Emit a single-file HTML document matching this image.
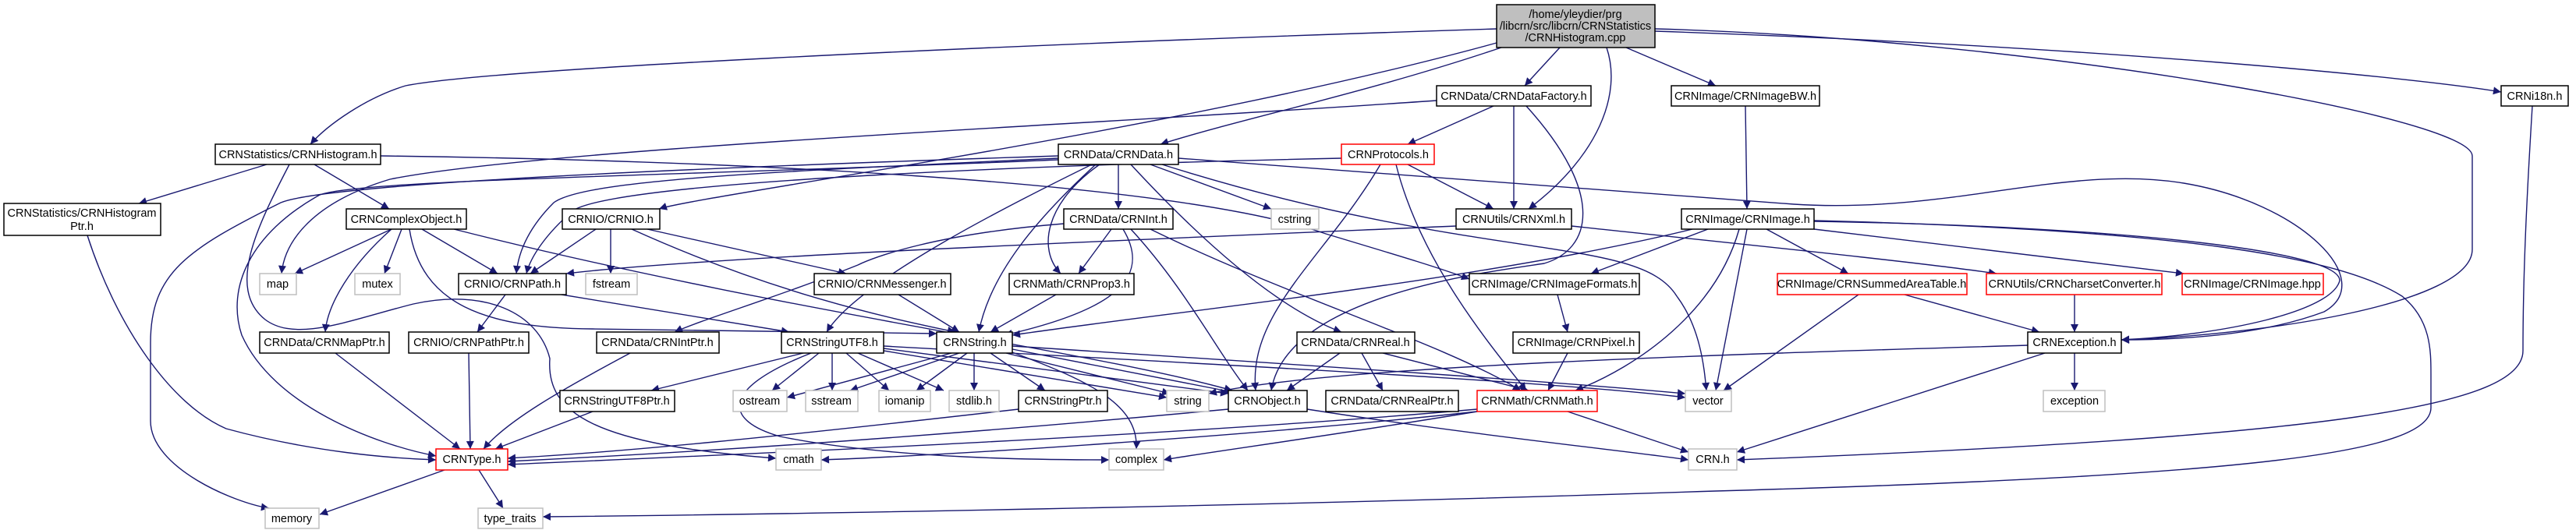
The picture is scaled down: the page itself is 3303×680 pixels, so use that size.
<!DOCTYPE html>
<html><head><meta charset="utf-8"><style>
html,body{margin:0;padding:0;background:#fff;}
svg{display:block;}
text{font-family:"Liberation Sans",sans-serif;font-size:14.5px;fill:#000;text-anchor:middle;}
.e{fill:none;stroke:#191970;stroke-width:1.4;marker-end:url(#a);}
.n{fill:#fff;stroke:#000;stroke-width:1.5;}
.g{fill:#fff;stroke:#bfbfbf;stroke-width:1.5;}
.r{fill:#fff;stroke:#ff0000;stroke-width:1.5;}
</style></head><body>
<svg width="3303" height="680" viewBox="0 0 3303 680" xmlns="http://www.w3.org/2000/svg">
<defs><marker id="a" viewBox="0 0 10 10" refX="10" refY="5" markerWidth="14" markerHeight="10" markerUnits="userSpaceOnUse" orient="auto"><path d="M0,0 L10,5 L0,10 z" fill="#191970"/></marker></defs>
<g>
<path class="e" d="M2000,61 L1955,110"/>
<path class="e" d="M2085,61 L2200,110"/>
<path class="e" d="M2122,40 C2700,60 3100,100 3207,118"/>
<path class="e" d="M2122,37 C2600,50 3170,150 3170,200 L3170,320 C3170,390 2900,430 2720,436"/>
<path class="e" d="M2060,61 C2080,120 2050,200 1960,268"/>
<path class="e" d="M1925,61 C1750,120 1600,150 1488,185"/>
<path class="e" d="M1919,55 C1500,170 900,250 845,268"/>
<path class="e" d="M1919,37 C1200,60 620,90 520,110 C470,125 420,160 398,185"/>
<path class="e" d="M1915,136 L1805,185"/>
<path class="e" d="M1941,136 L1941,268"/>
<path class="e" d="M1957,136 C2060,250 2040,320 1980,338 C1900,350 1650,380 1630,501"/>
<path class="e" d="M1842,129 C1400,160 700,190 500,230 C400,260 365,310 361,351"/>
<path class="e" d="M342,211 L178,261"/>
<path class="e" d="M403,211 L499,268"/>
<path class="e" d="M371,211 C330,290 290,370 340,410 C380,440 450,410 530,390 C620,370 690,400 705,460 C700,530 760,570 995,588"/>
<path class="e" d="M488,200 C900,205 1500,230 1700,300 C1800,330 1850,345 1884,358"/>
<path class="e" d="M1434,211 L1434,268"/>
<path class="e" d="M1475,211 L1630,268"/>
<path class="e" d="M1410,211 C1340,260 1330,320 1360,351"/>
<path class="e" d="M1405,211 C1330,280 1270,350 1255,426"/>
<path class="e" d="M1400,211 C1300,260 1100,360 1060,426"/>
<path class="e" d="M1450,211 C1560,330 1650,400 1720,426"/>
<path class="e" d="M1490,211 C1900,340 2100,300 2150,380 C2180,420 2185,470 2188,501"/>
<path class="e" d="M1511,203 C1900,230 2150,250 2300,262 C2500,275 2650,210 2800,235 C2950,260 3050,360 2980,400 C2900,430 2800,436 2720,436"/>
<path class="e" d="M1357,203 C1000,220 750,230 710,260 C680,290 665,320 662,351"/>
<path class="e" d="M1357,205 C900,225 460,230 410,250 C320,300 290,370 310,430 C350,520 480,570 559,585"/>
<path class="e" d="M1357,200 C900,215 420,235 360,260 C240,320 193,350 193,440 L193,540 C193,600 300,645 345,652"/>
<path class="e" d="M1805,211 L1915,268"/>
<path class="e" d="M1770,211 C1700,330 1600,400 1610,501"/>
<path class="e" d="M1790,211 C1820,330 1900,430 1957,501"/>
<path class="e" d="M1720,203 C1400,210 800,230 735,270 C700,300 680,330 675,351"/>
<path class="e" d="M502,294 L378,351"/>
<path class="e" d="M515,294 L493,351"/>
<path class="e" d="M541,294 L638,351"/>
<path class="e" d="M502,294 C450,340 420,390 417,426"/>
<path class="e" d="M582,294 C1000,400 1400,450 1580,501"/>
<path class="e" d="M525,294 C540,390 620,421 760,422 L1201,428"/>
<path class="e" d="M764,294 L680,351"/>
<path class="e" d="M783,294 L783,351"/>
<path class="e" d="M830,294 L1085,351"/>
<path class="e" d="M810,294 C1000,380 1150,410 1225,426"/>
<path class="e" d="M1867,290 C1400,310 900,330 726,351"/>
<path class="e" d="M2015,290 C2200,310 2450,335 2560,351"/>
<path class="e" d="M2265,294 L2370,351"/>
<path class="e" d="M2326,294 L2800,351"/>
<path class="e" d="M2326,284 C2700,290 3000,320 3000,360 C2990,400 2850,430 2720,436"/>
<path class="e" d="M2326,283 C2800,295 3000,330 3080,380 C3117,410 3117,450 3117,480 L3117,523 C3117,580 2900,610 2200,630 C1600,650 1000,660 696,663"/>
<path class="e" d="M2170,294 C1900,360 1500,400 1298,430"/>
<path class="e" d="M2190,294 L2040,351"/>
<path class="e" d="M2240,294 L2200,501"/>
<path class="e" d="M2230,294 C2200,400 2100,470 2020,501"/>
<path class="e" d="M2238,136 L2240,268"/>
<path class="e" d="M3247,136 C3240,250 3235,350 3235,450 C3235,520 3000,560 2227,590"/>
<path class="e" d="M648,378 L612,426"/>
<path class="e" d="M720,378 L1012,426"/>
<path class="e" d="M1152,378 L1230,426"/>
<path class="e" d="M1354,378 L1270,426"/>
<path class="e" d="M1425,294 L1383,351"/>
<path class="e" d="M1440,294 C1480,360 1420,400 1288,430"/>
<path class="e" d="M1450,294 C1520,370 1560,450 1600,501"/>
<path class="e" d="M1475,294 C1650,380 1850,440 1950,501"/>
<path class="e" d="M1364,287 C1200,300 1120,330 1100,340 C1000,380 900,410 865,426"/>
<path class="e" d="M1997,378 L2010,426"/>
<path class="e" d="M2010,453 L1985,501"/>
<path class="e" d="M1718,453 L1650,501"/>
<path class="e" d="M1746,453 L1773,501"/>
<path class="e" d="M1773,453 L1960,501"/>
<path class="e" d="M2442,378 L2615,426"/>
<path class="e" d="M2383,378 L2210,501"/>
<path class="e" d="M2660,378 L2660,426"/>
<path class="e" d="M2600,443 C2200,455 1700,470 1550,505"/>
<path class="e" d="M2660,453 L2660,501"/>
<path class="e" d="M2622,453 L2227,580"/>
<path class="e" d="M1030,453 L835,501"/>
<path class="e" d="M1050,453 L990,501"/>
<path class="e" d="M1067,453 L1067,501"/>
<path class="e" d="M1085,453 L1140,501"/>
<path class="e" d="M1100,453 L1210,501"/>
<path class="e" d="M1133,450 L1496,510"/>
<path class="e" d="M1133,447 L1575,505"/>
<path class="e" d="M1133,444 C1600,470 2000,490 2161,510"/>
<path class="e" d="M1040,453 C920,500 930,540 1000,560 C1150,590 1350,590 1422,590"/>
<path class="e" d="M1220,453 L1009,510"/>
<path class="e" d="M1230,453 L1090,501"/>
<path class="e" d="M1240,453 L1175,501"/>
<path class="e" d="M1249,453 L1249,501"/>
<path class="e" d="M1270,453 L1340,501"/>
<path class="e" d="M1290,453 L1500,505"/>
<path class="e" d="M1298,448 L1580,503"/>
<path class="e" d="M1298,452 C1400,490 1460,520 1457,576"/>
<path class="e" d="M1298,444 C1700,470 2000,490 2161,505"/>
<path class="e" d="M1306,525 C1000,560 800,580 651,588"/>
<path class="e" d="M1575,525 C1200,560 900,580 651,592"/>
<path class="e" d="M1894,525 C1500,560 900,585 651,596"/>
<path class="e" d="M1894,528 C1700,560 1550,580 1492,590"/>
<path class="e" d="M2010,528 L2165,580"/>
<path class="e" d="M1894,528 C1600,560 1200,585 1053,590"/>
<path class="e" d="M1676,525 C1900,560 2100,580 2165,590"/>
<path class="e" d="M430,453 L590,576"/>
<path class="e" d="M601,453 L603,576"/>
<path class="e" d="M808,453 C720,500 650,540 620,576"/>
<path class="e" d="M760,528 L635,576"/>
<path class="e" d="M112,302 C150,420 220,520 290,550 C400,580 500,588 559,590"/>
<path class="e" d="M570,603 L410,660"/>
<path class="e" d="M614,603 L645,652"/>
</g>
<g>
<rect x="1919" y="6" width="203" height="55" fill="#bfbfbf" stroke="#000" stroke-width="1.5"/>
<text x="2020" y="23">/home/yleydier/prg</text><text x="2020" y="38">/libcrn/src/libcrn/CRNStatistics</text><text x="2020" y="53">/CRNHistogram.cpp</text>
<rect class="n" x="1842" y="110" width="198" height="26"/><text x="1941" y="128">CRNData/CRNDataFactory.h</text>
<rect class="n" x="2143" y="110" width="190" height="26"/><text x="2238" y="128">CRNImage/CRNImageBW.h</text>
<rect class="n" x="3207" y="110" width="86" height="26"/><text x="3250" y="128">CRNi18n.h</text>
<rect class="n" x="276" y="185" width="212" height="26"/><text x="382" y="203">CRNStatistics/CRNHistogram.h</text>
<rect class="n" x="1357" y="185" width="154" height="26"/><text x="1434" y="203">CRNData/CRNData.h</text>
<rect class="r" x="1720" y="185" width="119" height="26"/><text x="1780" y="203">CRNProtocols.h</text>
<rect class="n" x="5" y="261" width="201" height="41"/><text x="105" y="278">CRNStatistics/CRNHistogram</text><text x="105" y="295">Ptr.h</text>
<rect class="n" x="444" y="268" width="154" height="26"/><text x="521" y="286">CRNComplexObject.h</text>
<rect class="n" x="721" y="268" width="125" height="26"/><text x="783" y="286">CRNIO/CRNIO.h</text>
<rect class="n" x="1364" y="268" width="140" height="26"/><text x="1434" y="286">CRNData/CRNInt.h</text>
<rect class="g" x="1630" y="268" width="61" height="26"/><text x="1660" y="286">cstring</text>
<rect class="n" x="1867" y="268" width="148" height="26"/><text x="1941" y="286">CRNUtils/CRNXml.h</text>
<rect class="n" x="2156" y="268" width="170" height="26"/><text x="2241" y="286">CRNImage/CRNImage.h</text>
<rect class="g" x="333" y="351" width="47" height="27"/><text x="356" y="369">map</text>
<rect class="g" x="455" y="351" width="58" height="27"/><text x="484" y="369">mutex</text>
<rect class="n" x="588" y="351" width="138" height="27"/><text x="657" y="369">CRNIO/CRNPath.h</text>
<rect class="g" x="751" y="351" width="66" height="27"/><text x="784" y="369">fstream</text>
<rect class="n" x="1044" y="351" width="175" height="27"/><text x="1131" y="369">CRNIO/CRNMessenger.h</text>
<rect class="n" x="1294" y="351" width="160" height="27"/><text x="1374" y="369">CRNMath/CRNProp3.h</text>
<rect class="n" x="1884" y="351" width="218" height="27"/><text x="1993" y="369">CRNImage/CRNImageFormats.h</text>
<rect class="r" x="2279" y="351" width="243" height="27"/><text x="2400" y="369">CRNImage/CRNSummedAreaTable.h</text>
<rect class="r" x="2547" y="351" width="225" height="27"/><text x="2660" y="369">CRNUtils/CRNCharsetConverter.h</text>
<rect class="r" x="2798" y="351" width="181" height="27"/><text x="2888" y="369">CRNImage/CRNImage.hpp</text>
<rect class="n" x="333" y="426" width="166" height="27"/><text x="416" y="444">CRNData/CRNMapPtr.h</text>
<rect class="n" x="524" y="426" width="154" height="27"/><text x="601" y="444">CRNIO/CRNPathPtr.h</text>
<rect class="n" x="765" y="426" width="157" height="27"/><text x="843" y="444">CRNData/CRNIntPtr.h</text>
<rect class="n" x="1002" y="426" width="131" height="27"/><text x="1067" y="444">CRNStringUTF8.h</text>
<rect class="n" x="1201" y="426" width="97" height="27"/><text x="1250" y="444">CRNString.h</text>
<rect class="n" x="1663" y="426" width="151" height="27"/><text x="1738" y="444">CRNData/CRNReal.h</text>
<rect class="n" x="1940" y="426" width="162" height="27"/><text x="2021" y="444">CRNImage/CRNPixel.h</text>
<rect class="n" x="2600" y="426" width="120" height="27"/><text x="2660" y="444">CRNException.h</text>
<rect class="n" x="718" y="501" width="147" height="27"/><text x="791" y="519">CRNStringUTF8Ptr.h</text>
<rect class="g" x="940" y="501" width="69" height="27"/><text x="974" y="519">ostream</text>
<rect class="g" x="1033" y="501" width="67" height="27"/><text x="1066" y="519">sstream</text>
<rect class="g" x="1127" y="501" width="66" height="27"/><text x="1160" y="519">iomanip</text>
<rect class="g" x="1217" y="501" width="64" height="27"/><text x="1249" y="519">stdlib.h</text>
<rect class="n" x="1306" y="501" width="114" height="27"/><text x="1363" y="519">CRNStringPtr.h</text>
<rect class="g" x="1496" y="501" width="54" height="27"/><text x="1523" y="519">string</text>
<rect class="n" x="1575" y="501" width="101" height="27"/><text x="1625" y="519">CRNObject.h</text>
<rect class="n" x="1700" y="501" width="170" height="27"/><text x="1785" y="519">CRNData/CRNRealPtr.h</text>
<rect class="r" x="1894" y="501" width="154" height="27"/><text x="1971" y="519">CRNMath/CRNMath.h</text>
<rect class="g" x="2161" y="501" width="59" height="27"/><text x="2190" y="519">vector</text>
<rect class="g" x="2620" y="501" width="79" height="27"/><text x="2660" y="519">exception</text>
<rect class="r" x="559" y="576" width="92" height="27"/><text x="605" y="594">CRNType.h</text>
<rect class="g" x="995" y="576" width="58" height="27"/><text x="1024" y="594">cmath</text>
<rect class="g" x="1422" y="576" width="70" height="27"/><text x="1457" y="594">complex</text>
<rect class="g" x="2165" y="576" width="62" height="27"/><text x="2196" y="594">CRN.h</text>
<rect class="g" x="340" y="652" width="69" height="26"/><text x="374" y="670">memory</text>
<rect class="g" x="613" y="652" width="83" height="26"/><text x="654" y="670">type_traits</text>
</g>
</svg>
</body></html>
